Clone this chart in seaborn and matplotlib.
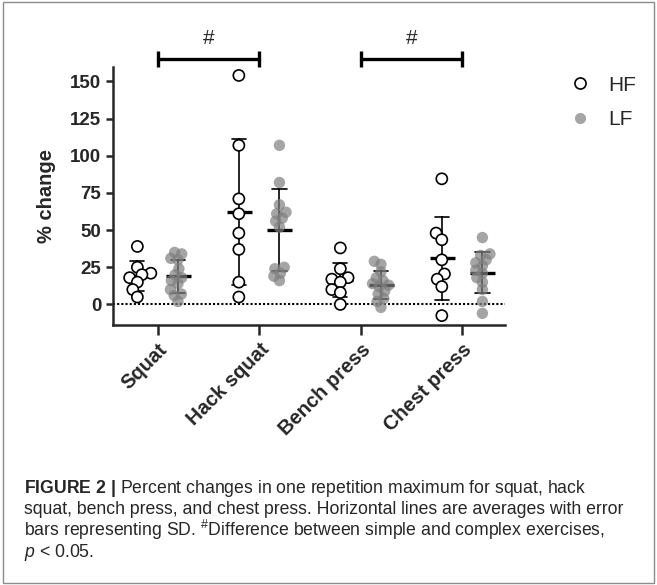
import numpy as np
import pandas as pd
import seaborn as sns
import matplotlib.pyplot as plt
from matplotlib.lines import Line2D
from matplotlib.patches import Rectangle

exercises = ["Squat", "Hack squat", "Bench press", "Chest press"]
groups = ["HF", "LF"]

# % change per participant
hf_squat = [39, 25, 21, 20, 18, 15, 10, 5]
hf_hack = [154, 107, 71, 61, 48, 37, 15, 5]
hf_bench = [38, 24, 18, 17, 15, 10, 8, 0]
hf_chest = [84.5, 48, 43.5, 30, 20.5, 17, 12, -7.5]

lf_squat = [35, 34, 31, 30, 24, 20, 18, 16, 14, 10, 7, 6, 2]
lf_hack = [107, 82, 67, 62, 61, 58, 56, 52, 25, 24, 21, 19, 16]
lf_bench = [29, 27, 22, 18, 16, 14, 13, 12, 9, 7, 4, 2, -2]
lf_chest = [45, 34, 33, 30, 28, 26, 23, 21, 18, 15, 10, 2, -6]

yticks = [0, 25, 50, 75, 100, 125, 150]
sig_pairs = [(0, 1), (2, 3)]
sig_level = 165

caption = [
    r"$\bf{FIGURE\ 2\ |}$ Percent changes in one repetition maximum for squat, hack",
    "squat, bench press, and chest press. Horizontal lines are averages with error",
    r"bars representing SD. $^{\#}$Difference between simple and complex exercises,",
    r"$p$ < 0.05.",
]

rows = []
for ex, hf, lf in zip(exercises, [hf_squat, hf_hack, hf_bench, hf_chest],
                      [lf_squat, lf_hack, lf_bench, lf_chest]):
    rows += [(ex, "HF", v) for v in hf]
    rows += [(ex, "LF", v) for v in lf]
df = pd.DataFrame(rows, columns=["exercise", "group", "change"])

sns.set_theme(style="ticks")
plt.rcParams["font.family"] = ["Liberation Sans", "DejaVu Sans"]
plt.rcParams["mathtext.fontset"] = "custom"
plt.rcParams["mathtext.rm"] = "Liberation Sans"
plt.rcParams["mathtext.it"] = "Liberation Sans:italic"
plt.rcParams["mathtext.bf"] = "Liberation Sans:bold"

fig = plt.figure(figsize=(6.57, 5.85), dpi=100)
ax = fig.add_axes([0.172, 0.444, 0.597, 0.441])

# swarm laid out with small markers, markers enlarged afterwards so they overlap
common = dict(x="exercise", y="change", hue="group", order=exercises,
              hue_order=groups, dodge=True, legend=False, ax=ax, size=5,
              warn_thresh=1)
sns.swarmplot(data=df[df.group == "LF"], palette={"HF": "#7f7f7f", "LF": "#7f7f7f"},
              alpha=0.7, linewidth=0, **common)
n_lf = len(ax.collections)
sns.swarmplot(data=df[df.group == "HF"], palette={"HF": "white", "LF": "white"},
              edgecolor="black", linewidth=1.2, **common)

sns.pointplot(data=df, x="exercise", y="change", hue="group", order=exercises,
              hue_order=groups, dodge=0.4, errorbar="sd", capsize=0.14,
              markers="_", linestyles="none", palette={"HF": "black", "LF": "black"},
              markersize=18, markeredgewidth=2.4, err_kws={"linewidth": 1.2},
              legend=False, ax=ax)

ax.axhline(0, color="black", ls=(0, (1, 1)), lw=1.5, zorder=0)

for a, b in sig_pairs:
    ax.plot([a, b], [sig_level, sig_level], color="black", lw=2.4, clip_on=False,
            marker="|", markersize=11, markeredgewidth=2.4)
    ax.text((a + b) / 2, sig_level + 14, "#", ha="center", va="center", fontsize=15)

ax.set_xlim(-0.44, 3.425)
ax.set_ylim(-14, 159.5)
ax.set_yticks(yticks)
sns.despine(ax=ax)
for s in ["left", "bottom"]:
    ax.spines[s].set_linewidth(1.8)
ax.tick_params(axis="x", width=1.8, length=7, labelsize=14.5)
ax.tick_params(axis="y", width=1.8, length=5, labelsize=13.5)
ax.set_xlabel("")
ax.set_ylabel("% change", fontsize=14.5, fontweight="bold", labelpad=10)
plt.setp(ax.get_xticklabels(), rotation=45, ha="right", rotation_mode="anchor",
         fontweight="bold")
plt.setp(ax.get_yticklabels(), fontweight="bold")

# fix the swarm layout, then enlarge the markers
fig.canvas.draw()
for coll in ax.collections:
    if "draw" in coll.__dict__:
        del coll.draw
for i, coll in enumerate(ax.collections):
    if coll.get_offsets().shape[0] > 0 and len(coll.get_sizes()) > 0:
        coll.set_sizes([8.2 ** 2] if i < n_lf else [8 ** 2])

handles = [
    Line2D([], [], ls="none", marker="o", ms=8, mfc="white", mec="black", mew=1.2),
    Line2D([], [], ls="none", marker="o", ms=8, mfc="#7f7f7f", mec="none", alpha=0.7),
]
fig.legend(handles, groups, loc="center left", bbox_to_anchor=(0.867, 0.825),
           frameon=False, fontsize=15, handlelength=1.0, handletextpad=0.85,
           labelspacing=0.75, borderpad=0, borderaxespad=0)

for i, line in enumerate(caption):
    fig.text(0.036, 0.1573 - i * 0.03675, line, fontsize=12.7, va="baseline", ha="left")

fig.patches.append(Rectangle((0.004, 0.004), 0.992, 0.992, transform=fig.transFigure,
                             fill=False, edgecolor="#8c8c8c", lw=1))

fig.savefig("out.png", dpi=100)
